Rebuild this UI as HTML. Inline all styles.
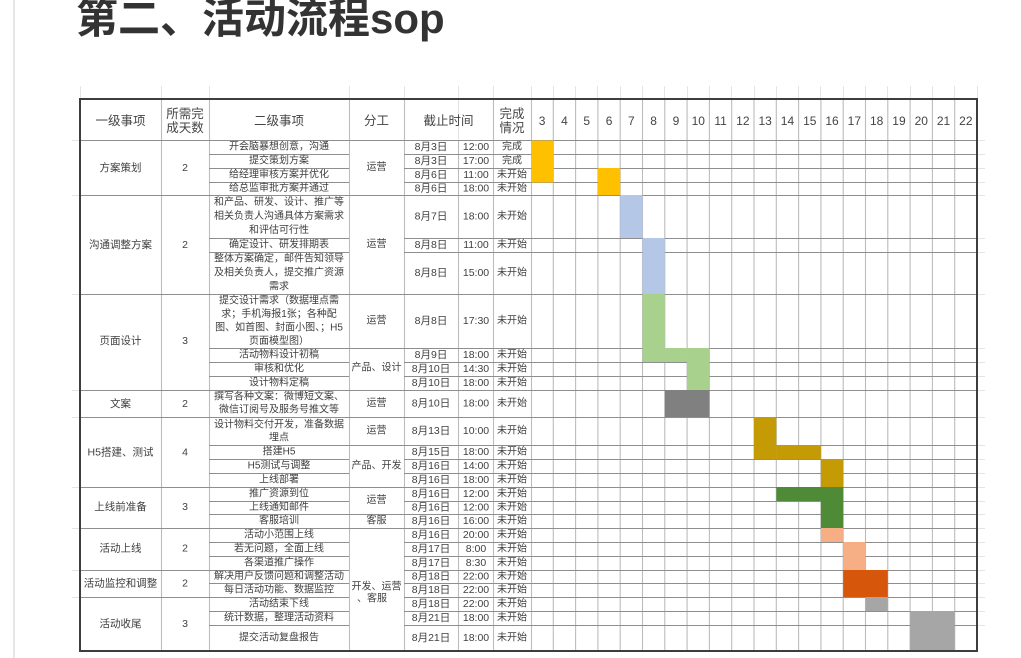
<!DOCTYPE html>
<html>
<head>
<meta charset="utf-8">
<style>
html,body{margin:0;padding:0;background:#fff;}
svg{display:block;}
.t{font-family:"Liberation Sans","Noto Sans CJK SC",sans-serif;font-size:10px;fill:#3f3f3f;text-anchor:middle;dominant-baseline:central;}
.d{font-size:10.5px;}
.h{font-size:12.5px;fill:#444;}
.n{font-size:12px;fill:#444;}
.title{font-family:"Liberation Sans","Noto Sans CJK SC",sans-serif;font-size:42px;font-weight:bold;fill:#333;}
</style>
</head>
<body>
<svg width="1021" height="658" viewBox="0 0 1021 658" xmlns="http://www.w3.org/2000/svg">
<rect x="0" y="0" width="1021" height="658" fill="#fff"/>
<!-- page left line -->
<rect x="13" y="0" width="2" height="658" fill="#e6e6e6"/>

<!-- title -->
<text class="title" x="76" y="33">第二、活动流程sop</text>

<!-- faint outside gridlines -->
<g stroke="#e4e4e4" stroke-width="1">
<path d="M80.5 86V99 M161.5 86V99 M209.5 86V99 M349.5 86V99 M404.5 86V99 M458.5 86V99 M493.5 86V99 M531.5 86V99 M553.5 86V99 M575.5 86V99 M597.5 86V99 M620.5 86V99 M642.5 86V99 M664.5 86V99 M687.5 86V99 M709.5 86V99 M731.5 86V99 M754.5 86V99 M776.5 86V99 M798.5 86V99 M820.5 86V99 M843.5 86V99 M865.5 86V99 M887.5 86V99 M910.5 86V99 M932.5 86V99 M954.5 86V99 M977.5 86V99"/>
<path d="M977 140.5H985 M977 154.5H985 M977 168.5H985 M977 182.5H985 M977 195.5H985 M977 238.5H985 M977 252.5H985 M977 294.5H985 M977 348.5H985 M977 362.5H985 M977 376.5H985 M977 390.5H985 M977 417.5H985 M977 445.5H985 M977 459.5H985 M977 473.5H985 M977 487.5H985 M977 501.5H985 M977 514.5H985 M977 528.5H985 M977 542.5H985 M977 556.5H985 M977 570.5H985 M977 583.5H985 M977 597.5H985 M977 611.5H985 M977 625.5H985"/>
<path d="M72 140.5H80 M72 195.5H80 M72 294.5H80 M72 390.5H80 M72 417.5H80 M72 487.5H80 M72 528.5H80 M72 570.5H80 M72 597.5H80"/>
</g>

<!-- vertical grid lines -->
<g stroke="#bcbcbc" stroke-width="1.1" fill="none">
<path d="M161.5 99V651 M209.5 99V651 M349.5 99V651 M404.5 99V651 M458.5 140V651 M493.5 99V651 M531.5 99V651"/>
<path d="M553.3 99V651 M575.6 99V651 M597.9 99V651 M620.2 99V651 M642.5 99V651 M664.8 99V651 M687.1 99V651 M709.4 99V651 M731.7 99V651 M754 99V651 M776.3 99V651 M798.6 99V651 M820.9 99V651 M843.2 99V651 M865.5 99V651 M887.8 99V651 M910.1 99V651 M932.4 99V651 M954.7 99V651"/>
</g>
<path d="M458.5 99V140" stroke="#e2e2e2" stroke-width="1"/>

<!-- horizontal grid lines -->
<g stroke="#8e8e8e" stroke-width="1" fill="none">
<path d="M80 140.5H977 M80 195.5H977 M80 294.5H977 M80 390.5H977 M80 417.5H977 M80 487.5H977 M80 528.5H977"/>
<path d="M209 348.5H977 M209 445.5H977 M209 514.5H977"/>
<path d="M80 570.5H349 M404 570.5H977 M80 597.5H349 M404 597.5H977"/>
<path d="M209 154.5H349 M404 154.5H977 M209 168.5H349 M404 168.5H977 M209 182.5H349 M404 182.5H977 M209 238.5H349 M404 238.5H977 M209 252.5H349 M404 252.5H977 M209 362.5H349 M404 362.5H977 M209 376.5H349 M404 376.5H977 M209 459.5H349 M404 459.5H977 M209 473.5H349 M404 473.5H977 M209 501.5H349 M404 501.5H977 M209 542.5H349 M404 542.5H977 M209 556.5H349 M404 556.5H977 M209 583.5H349 M404 583.5H977 M209 611.5H349 M404 611.5H977 M209 625.5H349 M404 625.5H977"/>
</g>

<!-- gantt fills -->
<g>
<rect x="531.5" y="140.5" width="22.3" height="42" fill="#FFC000"/>
<rect x="597.9" y="168" width="22.3" height="27" fill="#FFC000"/>
<rect x="620.2" y="195" width="22.3" height="43" fill="#B4C7E7"/>
<rect x="642.5" y="238" width="22.3" height="56" fill="#B4C7E7"/>
<rect x="642.5" y="294" width="22.3" height="68" fill="#A9D18E"/>
<rect x="664.8" y="348" width="22.3" height="14" fill="#A9D18E"/>
<rect x="687.1" y="348" width="22.3" height="42" fill="#A9D18E"/>
<rect x="664.8" y="390" width="44.6" height="27" fill="#808080"/>
<rect x="754" y="417" width="22.3" height="42" fill="#C49A05"/>
<rect x="776.3" y="445" width="44.6" height="14" fill="#C49A05"/>
<rect x="820.9" y="459" width="22.3" height="28" fill="#C49A05"/>
<rect x="776.3" y="487" width="66.9" height="14" fill="#4F8A37"/>
<rect x="820.9" y="501" width="22.3" height="27" fill="#4F8A37"/>
<rect x="820.9" y="528" width="22.3" height="14" fill="#F6AE84"/>
<rect x="843.2" y="542" width="22.3" height="28" fill="#F6AE84"/>
<rect x="843.2" y="570" width="44.6" height="27" fill="#D6560C"/>
<rect x="865.5" y="597" width="22.3" height="14" fill="#A6A6A6"/>
<rect x="910.1" y="611" width="44.6" height="40" fill="#A6A6A6"/>
</g>

<!-- outer border -->
<rect x="80" y="99" width="897" height="552" fill="none" stroke="#3d3d3d" stroke-width="2"/>

<!-- header -->
<text class="t h" x="120.5" y="121">一级事项</text>
<text class="t h" x="185" y="114">所需完</text>
<text class="t h" x="185" y="128">成天数</text>
<text class="t h" x="279" y="121">二级事项</text>
<text class="t h" x="376.5" y="121">分工</text>
<text class="t h" x="448.5" y="121">截止时间</text>
<text class="t h" x="512" y="114">完成</text>
<text class="t h" x="512" y="128">情况</text>
<text class="t n" x="542.15" y="121">3</text>
<text class="t n" x="564.45" y="121">4</text>
<text class="t n" x="586.75" y="121">5</text>
<text class="t n" x="609.05" y="121">6</text>
<text class="t n" x="631.35" y="121">7</text>
<text class="t n" x="653.65" y="121">8</text>
<text class="t n" x="675.95" y="121">9</text>
<text class="t n" x="698.25" y="121">10</text>
<text class="t n" x="720.55" y="121">11</text>
<text class="t n" x="742.85" y="121">12</text>
<text class="t n" x="765.15" y="121">13</text>
<text class="t n" x="787.45" y="121">14</text>
<text class="t n" x="809.75" y="121">15</text>
<text class="t n" x="832.05" y="121">16</text>
<text class="t n" x="854.35" y="121">17</text>
<text class="t n" x="876.65" y="121">18</text>
<text class="t n" x="898.95" y="121">19</text>
<text class="t n" x="921.25" y="121">20</text>
<text class="t n" x="943.55" y="121">21</text>
<text class="t n" x="965.85" y="121">22</text>

<!-- level 1 column -->
<text class="t d" x="120.5" y="168">方案策划</text>
<text class="t d" x="120.5" y="245">沟通调整方案</text>
<text class="t d" x="120.5" y="341">页面设计</text>
<text class="t d" x="120.5" y="404">文案</text>
<text class="t d" x="120.5" y="452.5">H5搭建、测试</text>
<text class="t d" x="120.5" y="507">上线前准备</text>
<text class="t d" x="120.5" y="548.5">活动上线</text>
<text class="t d" x="120.5" y="583.5">活动监控和调整</text>
<text class="t d" x="120.5" y="624">活动收尾</text>

<!-- days column -->
<text class="t d" x="185" y="168">2</text>
<text class="t d" x="185" y="245">2</text>
<text class="t d" x="185" y="341">3</text>
<text class="t d" x="185" y="404">2</text>
<text class="t d" x="185" y="452.5">4</text>
<text class="t d" x="185" y="507">3</text>
<text class="t d" x="185" y="548.5">2</text>
<text class="t d" x="185" y="583.5">2</text>
<text class="t d" x="185" y="624">3</text>

<!-- division column -->
<text class="t" x="376.5" y="167.5">运营</text>
<text class="t" x="376.5" y="244.5">运营</text>
<text class="t" x="376.5" y="321">运营</text>
<text class="t" x="376.5" y="368">产品、设计</text>
<text class="t" x="376.5" y="403.5">运营</text>
<text class="t" x="376.5" y="431">运营</text>
<text class="t" x="376.5" y="466">产品、开发</text>
<text class="t" x="376.5" y="500.5">运营</text>
<text class="t" x="376.5" y="521">客服</text>
<text class="t" x="376.5" y="587">开发、运营</text>
<text class="t" x="372" y="599">、客服</text>

<!-- level 2 column -->
<g>
<text class="t" x="279" y="147">开会脑暴想创意，沟通</text>
<text class="t" x="279" y="161">提交策划方案</text>
<text class="t" x="279" y="175">给经理审核方案并优化</text>
<text class="t" x="279" y="188.5">给总监审批方案并通过</text>
<text class="t" x="279" y="202.5">和产品、研发、设计、推广等</text>
<text class="t" x="279" y="216.5">相关负责人沟通具体方案需求</text>
<text class="t" x="279" y="230.5">和评估可行性</text>
<text class="t" x="279" y="245">确定设计、研发排期表</text>
<text class="t" x="279" y="259">整体方案确定，邮件告知领导</text>
<text class="t" x="279" y="273">及相关负责人，提交推广资源</text>
<text class="t" x="279" y="287">需求</text>
<text class="t" x="279" y="301">提交设计需求（数据埋点需</text>
<text class="t" x="279" y="314.5">求；手机海报1张；各种配</text>
<text class="t" x="279" y="328">图、如首图、封面小图、；H5</text>
<text class="t" x="279" y="341.5">页面模型图）</text>
<text class="t" x="279" y="355">活动物料设计初稿</text>
<text class="t" x="279" y="369">审核和优化</text>
<text class="t" x="279" y="383">设计物料定稿</text>
<text class="t" x="279" y="397">撰写各种文案：微博短文案、</text>
<text class="t" x="279" y="410">微信订阅号及服务号推文等</text>
<text class="t" x="279" y="425">设计物料交付开发，准备数据</text>
<text class="t" x="279" y="438">埋点</text>
<text class="t" x="279" y="452">搭建H5</text>
<text class="t" x="279" y="466">H5测试与调整</text>
<text class="t" x="279" y="480">上线部署</text>
<text class="t" x="279" y="494">推广资源到位</text>
<text class="t" x="279" y="507.5">上线通知邮件</text>
<text class="t" x="279" y="521">客服培训</text>
<text class="t" x="279" y="535">活动小范围上线</text>
<text class="t" x="279" y="549">若无问题，全面上线</text>
<text class="t" x="279" y="563">各渠道推广操作</text>
<text class="t" x="279" y="576.5">解决用户反馈问题和调整活动</text>
<text class="t" x="279" y="590">每日活动功能、数据监控</text>
<text class="t" x="279" y="604">活动结束下线</text>
<text class="t" x="279" y="618">统计数据，整理活动资料</text>
<text class="t" x="279" y="638">提交活动复盘报告</text>
</g>

<!-- dates -->
<g>
<text class="t d" x="431" y="147">8月3日</text>
<text class="t d" x="431" y="161">8月3日</text>
<text class="t d" x="431" y="175">8月6日</text>
<text class="t d" x="431" y="188.5">8月6日</text>
<text class="t d" x="431" y="216.5">8月7日</text>
<text class="t d" x="431" y="245">8月8日</text>
<text class="t d" x="431" y="273">8月8日</text>
<text class="t d" x="431" y="321">8月8日</text>
<text class="t d" x="431" y="355">8月9日</text>
<text class="t d" x="431" y="369">8月10日</text>
<text class="t d" x="431" y="383">8月10日</text>
<text class="t d" x="431" y="403.5">8月10日</text>
<text class="t d" x="431" y="431">8月13日</text>
<text class="t d" x="431" y="452">8月15日</text>
<text class="t d" x="431" y="466">8月16日</text>
<text class="t d" x="431" y="480">8月16日</text>
<text class="t d" x="431" y="494">8月16日</text>
<text class="t d" x="431" y="507.5">8月16日</text>
<text class="t d" x="431" y="521">8月16日</text>
<text class="t d" x="431" y="535">8月16日</text>
<text class="t d" x="431" y="549">8月17日</text>
<text class="t d" x="431" y="563">8月17日</text>
<text class="t d" x="431" y="576.5">8月18日</text>
<text class="t d" x="431" y="590">8月18日</text>
<text class="t d" x="431" y="604">8月18日</text>
<text class="t d" x="431" y="618">8月21日</text>
<text class="t d" x="431" y="638">8月21日</text>
</g>

<!-- times -->
<g>
<text class="t d" x="476" y="147">12:00</text>
<text class="t d" x="476" y="161">17:00</text>
<text class="t d" x="476" y="175">11:00</text>
<text class="t d" x="476" y="188.5">18:00</text>
<text class="t d" x="476" y="216.5">18:00</text>
<text class="t d" x="476" y="245">11:00</text>
<text class="t d" x="476" y="273">15:00</text>
<text class="t d" x="476" y="321">17:30</text>
<text class="t d" x="476" y="355">18:00</text>
<text class="t d" x="476" y="369">14:30</text>
<text class="t d" x="476" y="383">18:00</text>
<text class="t d" x="476" y="403.5">18:00</text>
<text class="t d" x="476" y="431">10:00</text>
<text class="t d" x="476" y="452">18:00</text>
<text class="t d" x="476" y="466">14:00</text>
<text class="t d" x="476" y="480">18:00</text>
<text class="t d" x="476" y="494">12:00</text>
<text class="t d" x="476" y="507.5">12:00</text>
<text class="t d" x="476" y="521">16:00</text>
<text class="t d" x="476" y="535">20:00</text>
<text class="t d" x="476" y="549">8:00</text>
<text class="t d" x="476" y="563">8:30</text>
<text class="t d" x="476" y="576.5">22:00</text>
<text class="t d" x="476" y="590">22:00</text>
<text class="t d" x="476" y="604">22:00</text>
<text class="t d" x="476" y="618">18:00</text>
<text class="t d" x="476" y="638">18:00</text>
</g>

<!-- status -->
<g>
<text class="t" x="512" y="147">完成</text>
<text class="t" x="512" y="161">完成</text>
<text class="t" x="512" y="175">未开始</text>
<text class="t" x="512" y="188.5">未开始</text>
<text class="t" x="512" y="216.5">未开始</text>
<text class="t" x="512" y="245">未开始</text>
<text class="t" x="512" y="273">未开始</text>
<text class="t" x="512" y="321">未开始</text>
<text class="t" x="512" y="355">未开始</text>
<text class="t" x="512" y="369">未开始</text>
<text class="t" x="512" y="383">未开始</text>
<text class="t" x="512" y="403.5">未开始</text>
<text class="t" x="512" y="431">未开始</text>
<text class="t" x="512" y="452">未开始</text>
<text class="t" x="512" y="466">未开始</text>
<text class="t" x="512" y="480">未开始</text>
<text class="t" x="512" y="494">未开始</text>
<text class="t" x="512" y="507.5">未开始</text>
<text class="t" x="512" y="521">未开始</text>
<text class="t" x="512" y="535">未开始</text>
<text class="t" x="512" y="549">未开始</text>
<text class="t" x="512" y="563">未开始</text>
<text class="t" x="512" y="576.5">未开始</text>
<text class="t" x="512" y="590">未开始</text>
<text class="t" x="512" y="604">未开始</text>
<text class="t" x="512" y="618">未开始</text>
<text class="t" x="512" y="638">未开始</text>
</g>
</svg>
</body>
</html>
